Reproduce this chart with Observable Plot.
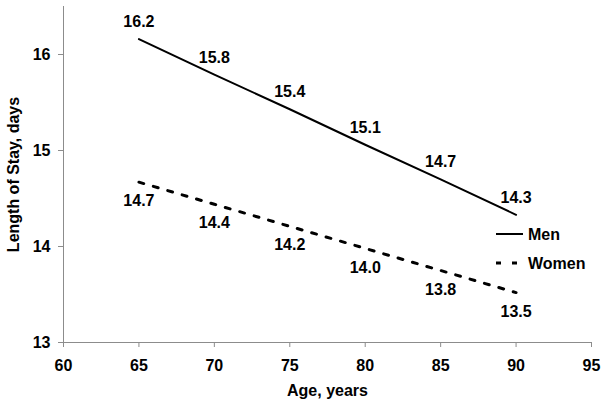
<!DOCTYPE html>
<html>
<head>
<meta charset="utf-8">
<script src="https://cdn.jsdelivr.net/npm/d3@7"></script>
<script src="https://cdn.jsdelivr.net/npm/@observablehq/plot@0.6"></script>
<style>
  html, body { margin: 0; padding: 0; background: #fff; }
  #wrap { position: relative; width: 605px; height: 405px; font-family: Arial, "Liberation Sans", sans-serif; }
  #legend { position: absolute; left: 0; top: 0; pointer-events: none; }
</style>
</head>
<body>
<div id="wrap"></div>
<script>
const ages = [65, 70, 75, 80, 85, 90];
const menValues = [16.16, 15.79, 15.43, 15.06, 14.70, 14.33];
const womenValues = [14.67, 14.44, 14.21, 13.98, 13.75, 13.52];
const menLabels = ["16.2", "15.8", "15.4", "15.1", "14.7", "14.3"];
const womenLabels = ["14.7", "14.4", "14.2", "14.0", "13.8", "13.5"];
const xTicks = [60, 65, 70, 75, 80, 85, 90, 95];
const yTicks = [13, 14, 15, 16];
const seriesNames = ["Men", "Women"];

const men = ages.map((a, i) => ({age: a, value: menValues[i], label: menLabels[i]}));
const women = ages.map((a, i) => ({age: a, value: womenValues[i], label: womenLabels[i]}));

const font = "Arial, 'Liberation Sans', sans-serif";
const axisColor = "#8c8c8c";
const fs = 16;

const chart = Plot.plot({
  width: 605,
  height: 405,
  marginLeft: 63,
  marginRight: 14,
  marginTop: 6,
  marginBottom: 63,
  style: {fontFamily: font, fontSize: fs + "px", fontWeight: "bold", color: "#000", background: "#fff"},
  x: {domain: [60, 95], ticks: xTicks, label: null},
  y: {domain: [13, 16.5], ticks: yTicks, label: null},
  marks: [
    Plot.ruleX([60], {stroke: axisColor, strokeWidth: 1}),
    Plot.ruleY([13], {stroke: axisColor, strokeWidth: 1}),
    Plot.axisX({ticks: xTicks, tickFormat: "d", tickSize: 5, tickPadding: 12, stroke: axisColor, fill: "#000", fontSize: fs, fontWeight: "bold", label: "Age, years", labelAnchor: "center", labelOffset: 53, labelArrow: "none"}),
    Plot.axisY({ticks: yTicks, tickFormat: "d", tickSize: 5, tickPadding: 8, stroke: axisColor, fill: "#000", fontSize: fs, fontWeight: "bold", label: "Length of Stay, days", labelAnchor: "center", labelOffset: 56, labelArrow: "none"}),
    Plot.line(men, {x: "age", y: "value", stroke: "#000", strokeWidth: 2}),
    Plot.line(women, {x: "age", y: "value", stroke: "#000", strokeWidth: 3, strokeDasharray: "5,10"}),
    Plot.text(men, {x: "age", y: "value", text: "label", dy: -17, fill: "#000", fontSize: fs, fontWeight: "bold"}),
    Plot.text(women, {x: "age", y: "value", text: "label", dy: 19, fill: "#000", fontSize: fs, fontWeight: "bold"})
  ]
});

const wrap = document.getElementById("wrap");
wrap.appendChild(chart);

// Legend overlay
const ns = "http://www.w3.org/2000/svg";
const leg = document.createElementNS(ns, "svg");
leg.setAttribute("id", "legend");
leg.setAttribute("width", 605);
leg.setAttribute("height", 405);
const legendItems = [
  {name: seriesNames[0], y: 234, width: 2, dash: null},
  {name: seriesNames[1], y: 263, width: 3, dash: "5,11"}
];
legendItems.forEach(it => {
  const l = document.createElementNS(ns, "line");
  l.setAttribute("x1", 496); l.setAttribute("x2", it.dash ? 517 : 523);
  l.setAttribute("y1", it.y); l.setAttribute("y2", it.y);
  l.setAttribute("stroke", "#000");
  l.setAttribute("stroke-width", it.width);
  if (it.dash) l.setAttribute("stroke-dasharray", it.dash);
  leg.appendChild(l);
  const t = document.createElementNS(ns, "text");
  t.setAttribute("x", 528); t.setAttribute("y", it.y);
  t.setAttribute("dy", "0.35em");
  t.setAttribute("font-family", font);
  t.setAttribute("font-size", fs);
  t.setAttribute("font-weight", "bold");
  t.textContent = it.name;
  leg.appendChild(t);
});
wrap.appendChild(leg);
</script>
</body>
</html>
